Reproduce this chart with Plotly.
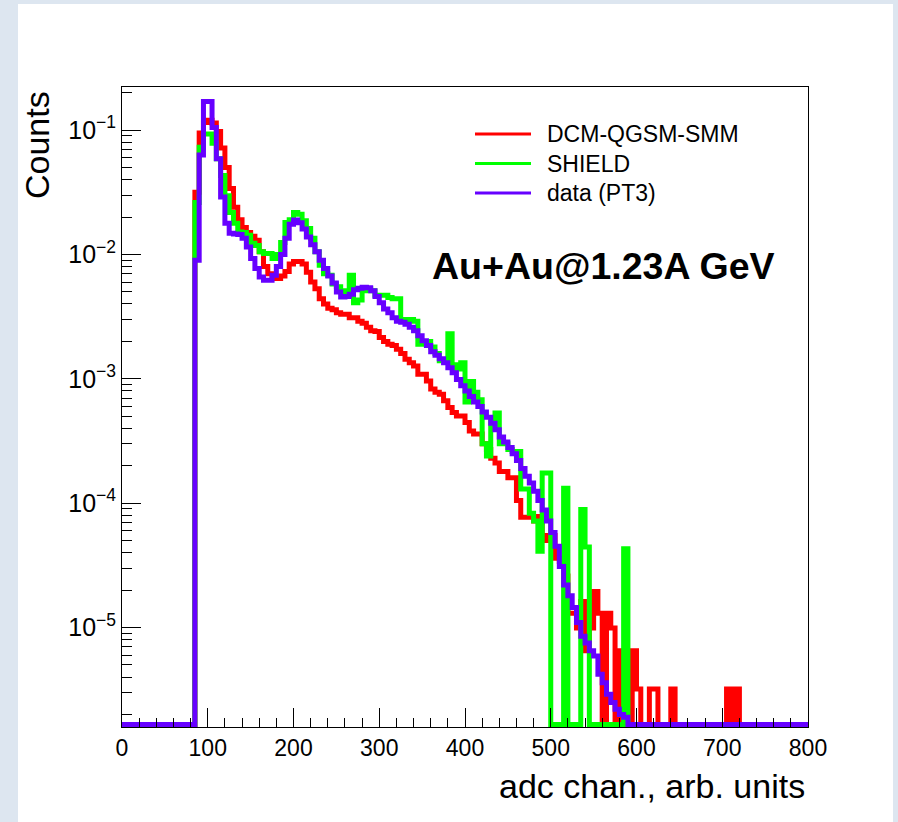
import numpy as np
import plotly.graph_objects as go

# ---------------- data ----------------
BIN_WIDTH = 5
X_MIN, X_MAX = 0, 800
FIRST_BIN = 85  # left edge of first filled bin

data_pt3 = [
    0.009, 0.063, 0.170, 0.170, 0.105, 0.059, 0.029, 0.0178, 0.0148, 0.0146,
    0.0145, 0.0135, 0.0115, 0.0093, 0.0077, 0.0066, 0.0062, 0.0062, 0.0068, 0.0080,
    0.0100, 0.0135, 0.0175, 0.0189, 0.0180, 0.0160, 0.0138, 0.0120, 0.0105, 0.0090,
    0.0077, 0.0067, 0.0059, 0.0050, 0.00455, 0.00460, 0.0048, 0.0052, 0.00535, 0.00545,
    0.00540, 0.0051, 0.0046, 0.0041, 0.00365, 0.0034, 0.0031, 0.0029, 0.00285, 0.00275,
    0.0026, 0.00244, 0.00222, 0.00202, 0.00185, 0.00165, 0.00155, 0.00145, 0.00135, 0.00123,
    0.00112, 0.00099, 0.00088, 0.00080, 0.00072, 0.00065, 0.00060, 0.00054, 0.00049, 0.00044,
    0.00039, 0.00034, 0.00031, 0.00028, 0.00025, 0.00022, 0.00019, 0.000165, 0.000145, 0.000125,
    0.000105, 0.000088, 0.000072, 0.000058, 0.000045, 0.000031, 0.000022, 0.000018, 0.0000145, 0.0000110,
    0.0000085, 0.0000075, 0.0000065, 0.0000059, 0.0000042, 0.0000036, 0.0000029, 0.0000025, 0.0000022, 0.0000020,
    0.0000019,
]

dcm_qgsm_smm = [
    0.0316, 0.095, 0.115, 0.120, 0.114, 0.0975, 0.072, 0.050, 0.034, 0.0240,
    0.0190, 0.0165, 0.0150, 0.0140, 0.0130, 0.0105, 0.0080, 0.0070, 0.0064, 0.0064,
    0.0067, 0.0073, 0.0084, 0.0088, 0.0088, 0.0084, 0.0072, 0.0060, 0.0053, 0.0044,
    0.0040, 0.0037, 0.0036, 0.0034, 0.0033, 0.0033, 0.0031, 0.0031, 0.0029, 0.0028,
    0.0026, 0.00244, 0.0024, 0.00215, 0.0020, 0.0019, 0.00185, 0.00173, 0.0016, 0.00144,
    0.00135, 0.00127, 0.00109, 0.00109, 0.00096, 0.00083, 0.00078, 0.00075, 0.000665, 0.000587,
    0.000535, 0.000503, 0.000503, 0.000445, 0.00038, 0.00036, 0.00036, 0.00030, 0.00027, 0.00023,
    0.00021, 0.00018, 0.00018, 0.00016, 0.00016, 0.000105, 0.000077, 0.000077, 0.000077, 0.000072,
    0.000078, 0.000050, 0.000055, 0.000055, 0.000036, 0.000034, 0.000026, 0.000013, 0.000013, 0.0000099,
    0.0000162, 0.0000065, 0.0000099, 0.0000195, 0.000013, 0.0, 0.000013, 0.0000099, 0.0, 0.0000065,
    0.0, 0.0, 0.0000065, 0.0000032, 0.0, 0.0, 0.0000032, 0.0000032, 0.0, 0.0,
    0.0, 0.0000032, 0.0, 0.0, 0.0, 0.0, 0.0, 0.0, 0.0, 0.0,
    0.0, 0.0, 0.0, 0.0, 0.0000032, 0.0, 0.0000032,
]

shield = [
    0.0262, 0.0728, 0.093, 0.093, 0.0785, 0.0588, 0.0431, 0.0297, 0.0218, 0.0178,
    0.0152, 0.0150, 0.0143, 0.0123, 0.0118, 0.0105, 0.0102, 0.0102, 0.0093, 0.0100,
    0.0125, 0.0181, 0.0190, 0.0218, 0.0211, 0.0187, 0.0162, 0.0135, 0.0105, 0.0082,
    0.0070, 0.0068, 0.0058, 0.0055, 0.0051, 0.0050, 0.0068, 0.0041, 0.0043, 0.0051,
    0.0053, 0.0051, 0.0047, 0.0047, 0.0047, 0.0045, 0.0044, 0.0044, 0.0030, 0.0030,
    0.0030, 0.0029, 0.0019, 0.0020, 0.0020, 0.0018, 0.0016, 0.0014, 0.0014, 0.0023,
    0.0013, 0.0012, 0.00135, 0.00065, 0.00095, 0.00078, 0.00068, 0.00030, 0.00024, 0.00045,
    0.00053, 0.00030, 0.00030, 0.00027, 0.00026, 0.00026, 0.00013, 0.00013, 0.000083, 0.000072,
    0.000041, 0.000175, 0.000175, 0.0, 0.0, 0.0, 0.000132, 0.0, 0.0, 0.0,
    0.000089, 0.0000445, 0.0, 0.0, 0.0, 0.0, 0.0, 0.0, 0.0, 0.0,
    0.000043,
]

series_names = ["DCM-QGSM-SMM", "SHIELD", "data (PT3)"]
series_colors = ["#ff0000", "#00ff00", "#6600ff"]
y_tick_exp = [-1, -2, -3, -4, -5]
x_tick_vals = [0, 100, 200, 300, 400, 500, 600, 700, 800]

# ---------------- helpers ----------------
LOG_MIN, LOG_MAX = -5.80, -0.653
edges = np.arange(X_MIN, X_MAX + BIN_WIDTH, BIN_WIDTH)
n_bins = len(edges) - 1
# empty bins are drawn on the floor of the frame (ROOT style)
floor_val = 10 ** (LOG_MIN + 0.02)


def full_hist(vals):
    h = np.zeros(n_bins)
    i0 = int((FIRST_BIN - X_MIN) / BIN_WIDTH)
    h[i0:i0 + len(vals)] = vals
    h = np.where(h > 0, h, floor_val)
    return np.append(h, h[-1])


fig = go.Figure()
for vals, name, col in zip([dcm_qgsm_smm, shield, data_pt3], series_names, series_colors):
    fig.add_trace(go.Scatter(
        x=edges, y=full_hist(vals), mode="lines", name=name,
        line=dict(color=col, width=5, shape="hv"), showlegend=False,
        hoverinfo="skip",
    ))

# invisible trace for minor y-tick overlay axis
fig.add_trace(go.Scatter(x=[None], y=[None], yaxis="y2", showlegend=False, hoverinfo="skip"))

FONT = "Liberation Sans, Arial, Helvetica, sans-serif"

minor_vals = [k * 10.0 ** e for e in range(-6, 0) for k in range(2, 10)]

fig.update_layout(
    width=898, height=822,
    margin=dict(l=122, r=90, t=87, b=95),
    paper_bgcolor="#dde6f0",
    plot_bgcolor="white",
    font=dict(family=FONT, color="black"),
    xaxis=dict(
        range=[X_MIN, X_MAX], tickvals=x_tick_vals, ticks="inside", ticklen=19,
        tickwidth=1, tickcolor="black", showline=True, linecolor="black", linewidth=1,
        mirror=True, showgrid=False, zeroline=False, tickfont=dict(size=23, family=FONT),
        minor=dict(ticks="inside", ticklen=9, dtick=20, tick0=0, tickcolor="black", showgrid=False),
    ),
    yaxis=dict(
        type="log", range=[LOG_MIN, LOG_MAX],
        tickvals=[10.0 ** e for e in y_tick_exp],
        ticktext=["10<sup>\u2212%d</sup>" % (-e) for e in y_tick_exp],
        ticks="inside", ticklen=19, tickwidth=1, tickcolor="black",
        showline=True, linecolor="black", linewidth=1, mirror=True,
        showgrid=False, zeroline=False, tickfont=dict(size=25, family=FONT),
    ),
    yaxis2=dict(
        type="log", range=[LOG_MIN, LOG_MAX], overlaying="y", side="left", anchor="x",
        tickvals=minor_vals, ticks="inside", ticklen=10, tickwidth=1, tickcolor="black",
        showticklabels=False, showgrid=False, zeroline=False, showline=False,
    ),
    showlegend=False,
)

# white canvas (ROOT pad) behind the frame
PX_L, PX_W, PX_T, PX_H = 122, 686, 87, 640


def px2paper_x(px):
    return (px - PX_L) / PX_W


def px2paper_y(py):
    return (PX_T + PX_H - py) / PX_H


fig.add_shape(type="rect", xref="paper", yref="paper",
              x0=px2paper_x(18), x1=px2paper_x(893), y0=px2paper_y(830), y1=px2paper_y(4),
              fillcolor="white", line=dict(width=0), layer="below")

# legend (ROOT TLegend look)
leg_y = [134, 163.5, 193]
for name, col, yy in zip(series_names, series_colors, leg_y):
    fig.add_shape(type="line", xref="paper", yref="paper",
                  x0=px2paper_x(475), x1=px2paper_x(531), y0=px2paper_y(yy), y1=px2paper_y(yy),
                  line=dict(color=col, width=3))
    fig.add_annotation(text=name, xref="paper", yref="paper", x=px2paper_x(545), y=px2paper_y(yy),
                       xanchor="left", yanchor="middle", showarrow=False,
                       font=dict(size=23, family=FONT, color="black"))

fig.add_annotation(text="<b>Au+Au@1.23A GeV</b>", xref="paper", yref="paper",
                   x=px2paper_x(603.5), y=px2paper_y(266), xanchor="center", yanchor="middle",
                   showarrow=False, font=dict(size=37.5, family=FONT, color="black"))

fig.add_annotation(text="adc chan., arb. units", xref="paper", yref="paper",
                   x=px2paper_x(807), y=px2paper_y(786), xanchor="right", yanchor="middle",
                   showarrow=False, font=dict(size=34, family=FONT, color="black"))

fig.add_annotation(text="Counts", xref="paper", yref="paper", textangle=-90,
                   x=px2paper_x(37), y=px2paper_y(89), xanchor="center", yanchor="top",
                   showarrow=False, font=dict(size=34, family=FONT, color="black"))

fig.write_html("out.html")
